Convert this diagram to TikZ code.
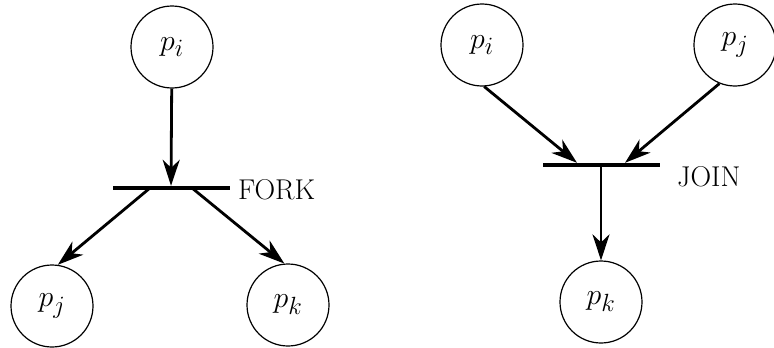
\documentclass[tikz,border=0pt]{standalone}
\usepackage{amsmath,amssymb}
\usepackage{tikz}
\usetikzlibrary{arrows.meta}

\newcommand{\proc}[1]{\scalebox{1.2}{$p_{#1}$}}

\begin{document}
\begin{tikzpicture}[x=1pt,y=-1pt,
  place/.style={draw, circle, line width=1.2pt, minimum size=82pt, inner sep=0pt,
    font=\Huge},
  bar/.style={fill=black, minimum width=117pt, minimum height=4pt, inner sep=0pt},
  flow/.style={line width=2.8pt, -{Stealth[length=26pt,width=17pt,inset=8pt]}},
  tag/.style={anchor=west, font=\Huge, scale=1.15},
  ]
  \useasboundingbox (0,0) rectangle (774,348);
  % fork
  \node[place] (fpi) at (172,47) {\proc{i}};
  \node[place] (fpj) at (52,306) {\proc{j}};
  \node[place] (fpk) at (288,305) {\proc{k}};
  \node[bar] (fork) at (171,188) {};
  \node[tag] (forklabel) at (234,190) {FORK};
  \coordinate (forkl) at ([xshift=-21pt]fork.center);
  \coordinate (forkr) at ([xshift=21pt]fork.center);
  \draw[flow] (fpi) -- (fork.north);
  \draw[flow] (forkl) -- (fpj.82);
  \draw[flow] (forkr) -- (fpk.95);
  % join
  \node[place] (jpi) at (482,45) {\proc{i}};
  \node[place] (jpj) at (735,45) {\proc{j}};
  \node[place] (jpk) at (601,302) {\proc{k}};
  \node[bar] (join) at (601,165) {};
  \node[tag] (joinlabel) at (673,177) {JOIN};
  \coordinate (joinl) at ([xshift=-24pt]join.north);
  \coordinate (joinr) at ([xshift=24pt]join.north);
  \draw[flow] (jpi.-87) -- (joinl);
  \draw[flow] (jpj.-112) -- (joinr);
  \draw[flow] (join.center) -- (jpk);
\end{tikzpicture}
\end{document}
